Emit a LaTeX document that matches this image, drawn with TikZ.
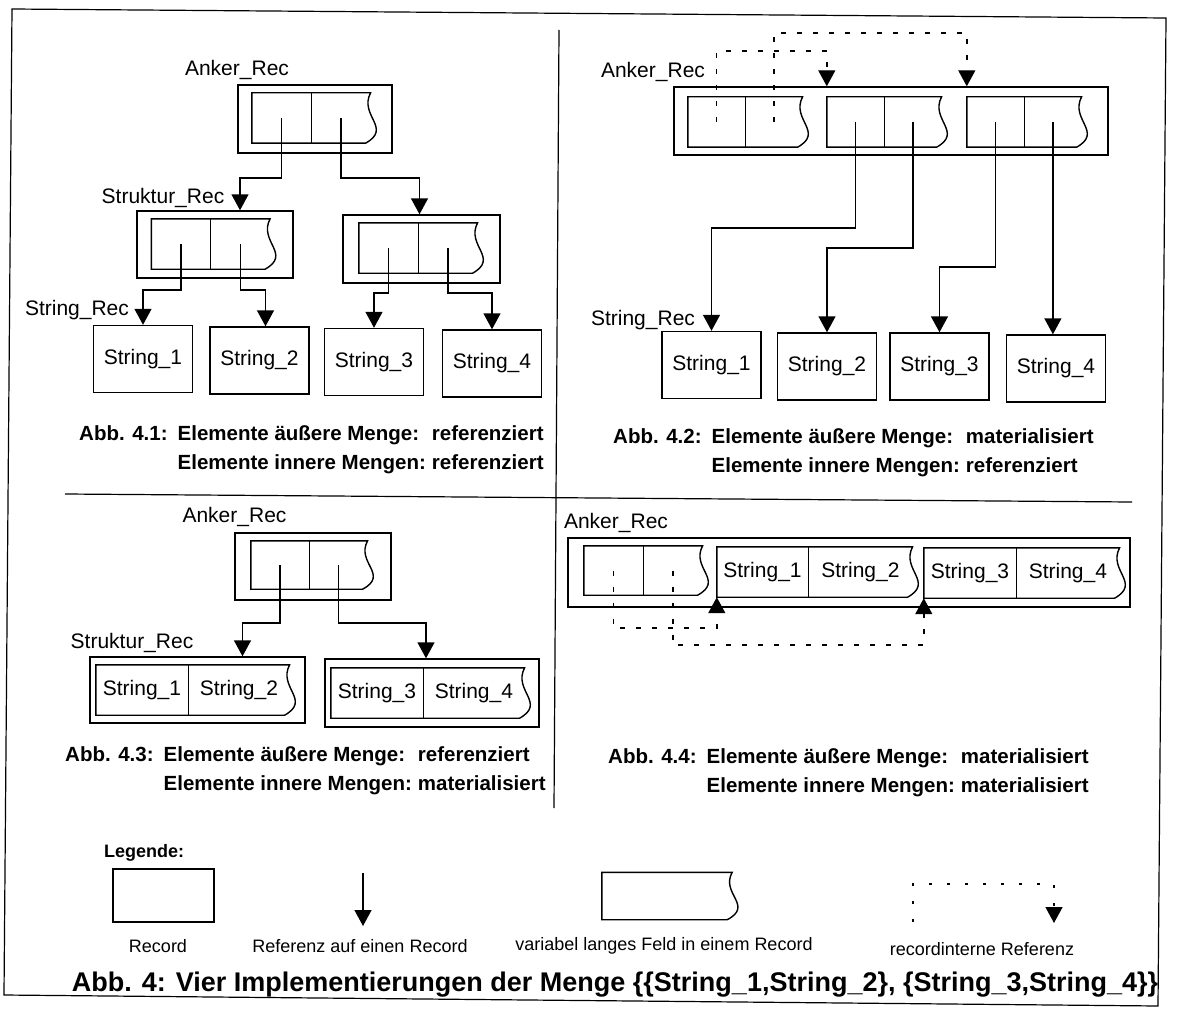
\documentclass[tikz,border=0pt]{standalone}
\usepackage{fontspec}
\setmainfont{Liberation Sans}
\usetikzlibrary{arrows.meta,positioning,calc}

\newcommand{\lblfont}{\fontsize{21}{24}\selectfont}
\newcommand{\capfont}{\bfseries\fontsize{20.5}{29}\selectfont}
\newcommand{\legfont}{\fontsize{18}{20}\selectfont}

\tikzset{
  rec/.style={draw,line width=1.4pt,inner sep=0pt},
  cell/.style={inner sep=0pt,minimum width=59pt,minimum height=50pt},
  txtcell/.style={inner sep=0pt,minimum height=50pt,font=\lblfont},
  strbox/.style={rec,minimum width=99pt,minimum height=67pt,font=\lblfont},
  lbl/.style={inner sep=0pt,font=\lblfont},
  ptr/.style={line width=1.4pt,-{Triangle[length=16pt,width=17pt]}},
  iref/.style={ptr,dash pattern=on 5pt off 11pt},
  captxt/.style={inner sep=0pt,font=\capfont,anchor=base west},
  legtxt/.style={inner sep=0pt,font=\legfont}
}

% outline of a record field with a variable-length (wavy) right end
\newcommand{\varoutline}[2]{%
  \draw[line width=1.4pt] (#1.north west) -- (#2.north east)
    .. controls ($(#2.north east)!0.45!(#2.south east)+(-12pt,0)$)
       and ($(#2.north east)!0.7!(#2.south east)+(22pt,0)$)
    .. ([xshift=-5pt]#2.south east) -- (#1.south west) -- cycle;
}
\newcommand{\varfield}[2]{%
  \varoutline{#1}{#2}
  \draw[line width=1.4pt] (#1.north east) -- (#1.south east);
}
\newcommand{\captab}[3]{%
  \begin{tabular}[t]{@{}l@{\hspace{10pt}}l@{\hspace{6pt}}l@{}}
    Abb. #1: & Elemente äußere Menge: & #2\\
             & Elemente innere Mengen: & #3
  \end{tabular}}

\begin{document}
\begin{tikzpicture}[x=1pt,y=-1pt]
  \useasboundingbox (0,0) rectangle (1178,1014);
  % frame and dividers
  \draw[line width=1.2pt] (12,9) -- (1166,18) -- (1158,1006) -- (4,995) -- cycle;
  \draw[line width=1.2pt] (559,30) -- (554,808);
  \draw[line width=1.2pt] (65,494) -- (1132,502);

  % Abb. 4.1
  \node[rec,minimum width=154pt,minimum height=68pt] (aAnk) at (315,119) {};
  \node[cell] (aA1) at (281.5,118) {};
  \node[cell,right=0pt of aA1] (aA2) {};
  \node[rec,minimum width=156pt,minimum height=67pt] (aSL) at (215,244.5) {};
  \node[cell] (aL1) at (181,244) {};
  \node[cell,right=0pt of aL1] (aL2) {};
  \node[rec,minimum width=157pt,minimum height=68pt] (aSR) at (421.5,249) {};
  \node[cell] (aR1) at (388.5,248) {};
  \node[cell,right=0pt of aR1] (aR2) {};
  \foreach \f in {aA,aL,aR} {\varfield{\f1}{\f2}}
  \node[strbox] (aS1) at (143,359) {String\_1};
  \node[strbox] (aS2) at (259.5,360.5) {String\_2};
  \node[strbox] (aS3) at (374,362) {String\_3};
  \node[strbox] (aS4) at (492,363.5) {String\_4};
  \draw[ptr] (aA1.center) -- ++(0,60) -| ([xshift=25pt]aSL.north);
  \draw[ptr] (aA2.center) -- ++(0,60) -| ([xshift=-2pt]aSR.north);
  \draw[ptr] (aL1.center) -- ++(0,46) -| (aS1.north);
  \draw[ptr] (aL2.center) -- ++(0,46) -| ([xshift=6pt]aS2.north);
  \draw[ptr] (aR1.center) -- ++(0,45) -| (aS3.north);
  \draw[ptr] (aR2.center) -- ++(0,45) -| (aS4.north);
  \node[lbl] at (237,70) {Anker\_Rec};
  \node[lbl] at (163,198) {Struktur\_Rec};
  \node[lbl] at (77,310) {String\_Rec};
  \node[captxt] at (79,440) {\captab{4.1}{referenziert}{referenziert}};

  % Abb. 4.2
  \node[rec,minimum width=434pt,minimum height=68pt] (bAnk) at (891,121) {};
  \foreach \i/\x in {1/716.5,2/855.5,3/995.5} {
    \node[cell,minimum width=57pt] (bL\i) at (\x,122) {};
    \node[cell,minimum width=57pt,right=0pt of bL\i] (bR\i) {};
    \varfield{bL\i}{bR\i}
  }
  \node[strbox] (bS1) at (711.5,365) {String\_1};
  \node[strbox] (bS2) at (827,366.5) {String\_2};
  \node[strbox] (bS3) at (939.5,366.5) {String\_3};
  \node[strbox] (bS4) at (1056,368.5) {String\_4};
  \draw[iref] (bL1.center) -- ++(0,-71) -| (bL2.west |- bAnk.north);
  \draw[iref] (bR1.center) -- ++(0,-89) -| (bL3.west |- bAnk.north);
  \draw[ptr] (bL2.center) -- ++(0,106) -| (bS1.north);
  \draw[ptr] (bR2.center) -- ++(0,126) -| (bS2.north);
  \draw[ptr] (bL3.center) -- ++(0,145) -| (bS3.north);
  \draw[ptr] (bR3.center) -- (bR3.center |- bS4.north);
  \node[lbl] at (653,72) {Anker\_Rec};
  \node[lbl] at (643,320) {String\_Rec};
  \node[captxt] at (613,443) {\captab{4.2}{materialisiert}{referenziert}};

  % Abb. 4.3
  \node[rec,minimum width=156pt,minimum height=67pt] (cAnk) at (313,566.5) {};
  \node[cell,minimum width=58pt,minimum height=48pt] (cA1) at (280,565) {};
  \node[cell,minimum width=58pt,minimum height=48pt,right=0pt of cA1] (cA2) {};
  \varfield{cA1}{cA2}
  \node[rec,minimum width=215pt,minimum height=66pt] (cSL) at (197.5,690) {};
  \node[txtcell,minimum width=92pt] (cL1) at (142,690) {String\_1};
  \node[txtcell,minimum width=101pt,right=0pt of cL1] (cL2) {String\_2};
  \node[rec,minimum width=214pt,minimum height=68pt] (cSR) at (432,693) {};
  \node[txtcell,minimum width=92pt] (cR1) at (377,693) {String\_3};
  \node[txtcell,minimum width=101pt,right=0pt of cR1] (cR2) {String\_4};
  \varfield{cL1}{cL2}
  \varfield{cR1}{cR2}
  \draw[ptr] (cA1.center) -- ++(0,58) -| ([xshift=45pt]cSL.north);
  \draw[ptr] (cA2.center) -- ++(0,58) -| ([xshift=-6pt]cSR.north);
  \node[lbl] at (234.5,517) {Anker\_Rec};
  \node[lbl] at (132,643) {Struktur\_Rec};
  \node[captxt] at (65,761) {\captab{4.3}{referenziert}{materialisiert}};

  % Abb. 4.4
  \node[rec,minimum width=562pt,minimum height=69pt] (dAnk) at (849,572.5) {};
  \node[cell,minimum height=49pt] (dL1) at (613.5,570.5) {};
  \node[cell,minimum height=49pt,right=0pt of dL1] (dR1) {};
  \node[txtcell,minimum width=91pt] (dL2) at (762.5,572) {String\_1};
  \node[txtcell,minimum width=104pt,right=0pt of dL2] (dR2) {String\_2};
  \node[txtcell,minimum width=92pt] (dL3) at (970,573) {String\_3};
  \node[txtcell,minimum width=103pt,right=0pt of dL3] (dR3) {String\_4};
  \foreach \i in {1,2,3} {\varfield{dL\i}{dR\i}}
  \draw[iref] (dL1.center) -- ++(0,57.5) -| (dL2.south west);
  \draw[iref] (dR1.center) -- ++(0,74.5) -| (dL3.south west);
  \node[lbl] at (616,523) {Anker\_Rec};
  \node[captxt] at (608,763) {\captab{4.4}{materialisiert}{materialisiert}};

  % Legende
  \node[inner sep=0pt,font=\bfseries\fontsize{18}{20}\selectfont,anchor=west]
    at (104,853) {Legende:};
  \node[rec,minimum width=101pt,minimum height=53pt] (lgRec) at (163.5,895.5) {};
  \node[legtxt] at (158,946) {Record};
  \coordinate (lgTop) at (363,873);
  \coordinate (lgTip) at (363,926);
  \draw[ptr] (lgTop) -- (lgTip);
  \node[legtxt] at (360,946) {Referenz auf einen Record};
  \node[cell,minimum width=130pt,minimum height=47pt] (lgFld) at (667,896) {};
  \varoutline{lgFld}{lgFld}
  \node[legtxt] at (664,946) {variabel langes Feld in einem Record};
  \coordinate (lgD1) at (913,922);
  \coordinate (lgD2) at (1054,923);
  \draw[iref,dash pattern=on 3pt off 15pt] (lgD1) -- ++(0,-38) -| (lgD2);
  \node[legtxt] at (982,949) {recordinterne Referenz};

  \node[inner sep=0pt,font=\bfseries\fontsize{27}{30}\selectfont] at (615,985)
    {Abb. 4: Vier Implementierungen der Menge \{\{String\_1,String\_2\}, \{String\_3,String\_4\}\}};
\end{tikzpicture}
\end{document}
